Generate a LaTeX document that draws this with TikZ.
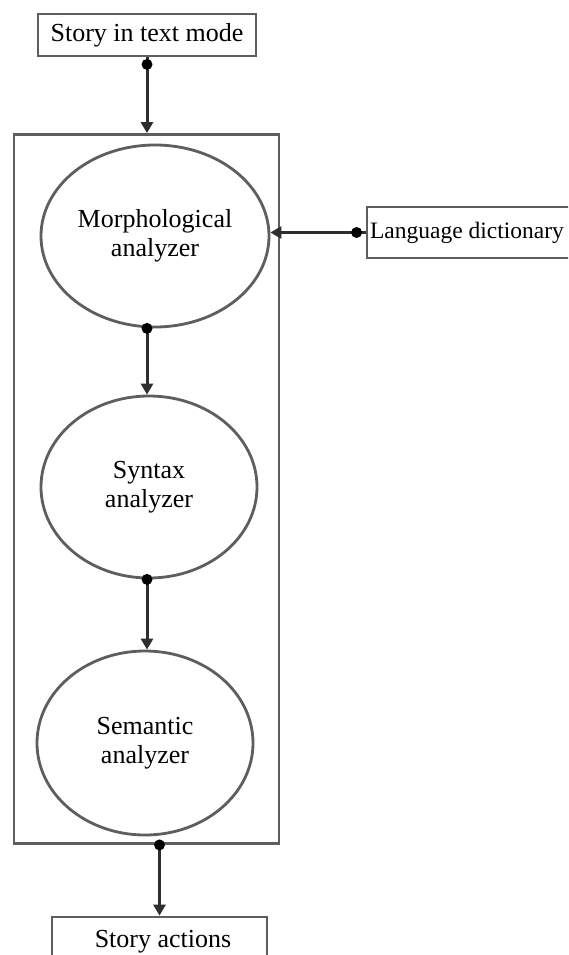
\documentclass[tikz,border=0pt]{standalone}
\usepackage{fontspec}
\setmainfont{Liberation Serif}
\usetikzlibrary{shapes.geometric,arrows.meta,calc}
\definecolor{boxgray}{HTML}{5E5E5E}
\definecolor{linegray}{HTML}{2E2E2E}
\tikzset{
  txtbox/.style={draw=boxgray, line width=2.8pt, rectangle, inner sep=0pt, align=center, font=\fontsize{26}{29}\selectfont},
  ell/.style={draw=boxgray, line width=2.8pt, ellipse, inner sep=0pt, align=center, font=\fontsize{26}{29}\selectfont},
  conn/.style={draw=linegray, line width=3pt, -{Triangle[width=12pt,length=11pt]}},
  dotc/.style={fill=black}
}
\begin{document}
\begin{tikzpicture}[x=1pt,y=-1pt]
\clip (0,0) rectangle (568,955);
\fill[white] (0,0) rectangle (568,955);
% frame
\node[draw=boxgray, line width=2.8pt, rectangle, minimum width=265pt, minimum height=709pt, inner sep=0pt] (frame) at (146.5,489) {};
% boxes
\node[txtbox, minimum width=218pt, minimum height=42pt] (top) at (147,35) {Story in text mode};
\node[txtbox, minimum width=206pt, minimum height=51pt, font=\fontsize{23.5}{26}\selectfont] (dict) at (470,232.5) {\hspace*{-6pt}Language dictionary};
\node[txtbox, minimum width=215pt, minimum height=48pt] (act) at (159.5,941) {};
\node[font=\fontsize{26}{29}\selectfont, anchor=base] (acttxt) at (163,947) {Story actions};
% ellipses
\node[ell, minimum width=228pt, minimum height=182pt] (e1) at (155,236) {Morphological\\analyzer};
\node[ell, minimum width=216pt, minimum height=182pt] (e2) at (149,487) {Syntax\\analyzer};
\node[ell, minimum width=216pt, minimum height=184pt] (e3) at (145,743) {Semantic\\analyzer};
% connectors
\draw[conn] (top.south) -- (top.south |- frame.north);
\fill[dotc] ($(top.south)+(0,7)$) circle (5.5pt);
\draw[conn] (dict.west) -- (dict.west -| e1.east);
\fill[dotc] ($(dict.west)+(-9,0)$) circle (5.5pt);
\draw[conn] (e1.south -| top.south) -- (e2.north -| top.south);
\fill[dotc] (e1.south -| top.south) circle (5.5pt);
\draw[conn] (e2.south -| top.south) -- (e3.north -| top.south);
\fill[dotc] (e2.south -| top.south) circle (5.5pt);
\draw[conn] (frame.south -| act.north) -- (act.north);
\fill[dotc] (frame.south -| act.north) circle (5.5pt);
\end{tikzpicture}
\end{document}
